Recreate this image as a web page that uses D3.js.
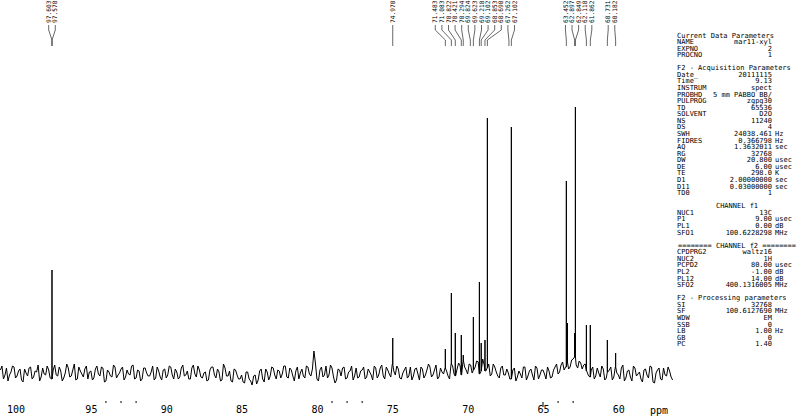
<!DOCTYPE html>
<html>
<head>
<meta charset="utf-8">
<script src="https://cdn.jsdelivr.net/npm/d3@7"></script>
<style>
  body { margin: 0; background: #fff; }
  svg { display: block; }
  text { font-family: "DejaVu Sans Mono", monospace; fill: #000; }
</style>
</head>
<body>
<script>
// 13C spectrum, ppm scale runs right to left
const ppmStart = 101.0
const ppmStep = 0.2

// baseline noise, one value every 0.2 ppm from 101.0 down to 56.4
const noise = [
  3, -6, 5, -2, 7, -5, 2, -7, 4, -3, 6, -4, 1, -8, 5, -2, 3, -6, 8, -3,
  2, -5, 9, -4, 3, -7, 6, -1, 4, -6, 2, -5, 7, -3, 5, -8, 1, -4, 6, -2,
  4, -7, 3, -2, 8, -5, 2, -6, 5, -3, 1, -7, 6, -4, 3, -5, 7, -2, 4, -6,
  5, -3, 2, -6, 8, -4, 3, -5, 1, -7, 6, -2, 4, -8, 9, -3, 2, -9, 3, -6,
  -2, -10, 1, -8, -3, -11, 2, -6, 4, -7, 6, -2, 3, -5, 7, -4, 5, -3, 2, -6,
  4, -5, 6, -3, 22, -6, 3, -4, 7, -2, 5, -10, 4, -3, 6, -5, 2, -7, 5, -4,
  3, -6, 4, -2, 7, -5, 5, -3, 6, -1, 9, -2, 4, -6, 3, -5, 6, -3, 5, -7,
  4, -2, 9, -4, 3, -6, 5, -1, 2, -6, 7, -3, 10, -2, 6, -1, 8, 3, 12, -1,
  14, 2, 9, -1, 6, -3, 5, -2, 4, -6, 3, -8, 2, -5, 6, -3, 4, -7, 5, -2,
  3, -6, 2, -4, 6, -1, 8, 3, 11, 6, 14, 8, 12, 4, 9, -2, 3, -6, 5, -4,
  4, -5, 3, -7, 6, -2, 5, -8, 2, -4, 7, -3, 1, -9, 4, -5, 6, -10, 3, -6,
  5, -3, 2, -7
]

// in-between samples, every 0.2 ppm from 100.9 down to 56.5
const noiseMid = [
  7, -2, -8, 1, 6, -3, 4, -9, 0, 5, -6, 2, 8, -4, -1, 7, -5, 3, -2, 6,
  -8, 0, 5, -3, 9, -6, 2, -4, 7, 1, -7, 4, -1, 6, -9, 3, -3, 8, -5, 0,
  6, -4, -1, 7, -6, 3, -8, 5, 0, -3, 7, -5, 2, -7, 4, -2, 6, -6, 1, -4,
  8, -2, -6, 5, -1, 7, -4, 0, -8, 3, 6, -5, 1, -7, 5, -3, -8, 4, -2, -6,
  -9, 1, -6, -12, -2, -7, 4, -9, 1, -3, 5, -6, 2, -1, 7, -5, 3, -8, 6, 0,
  -3, 7, -1, 4, 10, -8, 6, -2, -5, 8, -4, -7, 3, 5, -6, 1, 7, -3, -5, 2,
  6, -4, 1, -7, 5, -2, 8, -6, 3, -4, 2, 7, -5, 0, 6, -3, -7, 4, -1, 6,
  -5, 3, 6, -2, 8, -4, 1, 5, -3, 9, -1, 4, 7, 13, 3, 9, 0, 6, 11, 2,
  8, 5, -3, 9, 1, -5, 7, -2, 0, -6, 5, -4, -1, 6, -7, 2, -2, 7, -6, 3,
  -1, 6, -5, 3, 9, 1, 11, 6, 4, 13, 16, 5, 10, 8, 2, -4, 6, -3, 0, 7,
  -7, 1, 6, -4, 0, -6, 8, -5, 3, -8, 5, -1, -6, 3, -2, 7, -9, 0, 5, -7,
  -2, 6, -4
]

// peak positions (ppm) and heights (same units as noise)
const peakPpm = [97.58, 74.97, 71.48, 71.08, 70.82, 70.42, 70.29, 69.62, 69.22, 69.10, 68.85, 68.69, 67.10,
  63.45, 63.38, 62.90, 62.85, 62.12, 61.86, 60.73, 60.18]
const peakHeight = [103, 35, 24, 80, 40, 38, 18, 56, 91, 30, 33, 255, 246,
  192, 50, 40, 266, 48, 48, 33, 20]

// peak picking labels, grouped as printed at the top
const labelGroups = [
  { values: [97.603, 97.578], peaks: [97.58, 97.58] },
  { values: [74.970], peaks: [74.97] },
  { values: [71.483, 71.083, 70.822, 70.421, 70.294, 69.824, 69.623, 69.218, 69.102, 68.853, 68.690, 67.262, 67.102],
    peaks: [71.48, 71.08, 70.82, 70.42, 70.29, 69.82, 69.62, 69.22, 69.10, 68.85, 68.69, 67.26, 67.10] },
  { values: [63.452, 62.897, 62.849, 62.118, 61.862], peaks: [63.45, 62.90, 62.85, 62.12, 61.86] },
  { values: [60.731, 60.182], peaks: [60.73, 60.18] },
]

const axisTicks = [100, 95, 90, 85, 80, 75, 70, 65, 60]
const minorTicks = [94, 93, 92, 79, 78, 77, 64, 63]
const longTicks = [65]

const panelRows = [
  ['Current Data Parameters'],
  ['NAME', 'mar11-xyl', ''],
  ['EXPNO', '2', ''],
  ['PROCNO', '1', ''],
  [''],
  ['F2 - Acquisition Parameters'],
  ['Date_', '20111115', ''],
  ['Time', '9.13', ''],
  ['INSTRUM', 'spect', ''],
  ['PROBHD', '5 mm PABBO BB/', ''],
  ['PULPROG', 'zgpg30', ''],
  ['TD', '65536', ''],
  ['SOLVENT', 'D2O', ''],
  ['NS', '11240', ''],
  ['DS', '4', ''],
  ['SWH', '24038.461', 'Hz'],
  ['FIDRES', '0.366798', 'Hz'],
  ['AQ', '1.3632011', 'sec'],
  ['RG', '32768', ''],
  ['DW', '20.800', 'usec'],
  ['DE', '6.00', 'usec'],
  ['TE', '298.0', 'K'],
  ['D1', '2.00000000', 'sec'],
  ['D11', '0.03000000', 'sec'],
  ['TD0', '1', ''],
  [''],
  ['CHANNEL f1', 'center'],
  ['NUC1', '13C', ''],
  ['P1', '9.00', 'usec'],
  ['PL1', '0.00', 'dB'],
  ['SFO1', '100.6228298', 'MHz'],
  [''],
  ['======== CHANNEL f2 ========', 'center'],
  ['CPDPRG2', 'waltz16', ''],
  ['NUC2', '1H', ''],
  ['PCPD2', '80.00', 'usec'],
  ['PL2', '-1.00', 'dB'],
  ['PL12', '14.00', 'dB'],
  ['SFO2', '400.1316005', 'MHz'],
  [''],
  ['F2 - Processing parameters'],
  ['SI', '32768', ''],
  ['SF', '100.6127690', 'MHz'],
  ['WDW', 'EM', ''],
  ['SSB', '0', ''],
  ['LB', '1.00', 'Hz'],
  ['GB', '0', ''],
  ['PC', '1.40', ''],
]

const W = 800, H = 418

const svg = d3.select('body').append('svg')
  .attr('width', W)
  .attr('height', H)

const x = d3.scaleLinear().domain([101.03, 56.44]).range([0, 672])
const y = d3.scaleLinear().domain([0, 266]).range([373, 107])

// build the trace: both noise sample sets, then the peaks spiked in
const points = noise.map((v, i) => ({ ppm: ppmStart - i * ppmStep, h: v }))
  .concat(noiseMid.map((v, i) => ({ ppm: ppmStart - ppmStep / 2 - i * ppmStep, h: v })))
points.sort((a, b) => b.ppm - a.ppm)

const spikes = []
peakPpm.forEach(function (p, k) {
  const near = points.reduce((best, d) => Math.abs(d.ppm - p) < Math.abs(best.ppm - p) ? d : best)
  spikes.push({ ppm: p + 0.002, h: near.h })
  spikes.push({ ppm: p, h: peakHeight[k] })
  spikes.push({ ppm: p - 0.002, h: near.h })
})
const trace = points.concat(spikes).sort((a, b) => b.ppm - a.ppm)

const line = d3.line()
  .x(d => x(d.ppm))
  .y(d => y(d.h))

svg.append('path')
  .datum(trace)
  .attr('d', line)
  .attr('fill', 'none')
  .attr('stroke', '#000')
  .attr('stroke-width', 1)

// x axis (no axis line, labels only)
const axis = svg.append('g')
  .attr('transform', 'translate(0, 402)')
  .call(d3.axisBottom(x).tickValues(axisTicks).tickSize(0).tickPadding(4).tickFormat(d3.format('d')))
axis.select('.domain').remove()
axis.selectAll('text')
  .attr('font-family', '"DejaVu Sans Mono", monospace')
  .attr('font-size', 10)
  .attr('fill', '#000')

svg.append('text')
  .attr('x', x(57.3))
  .attr('y', 414)
  .attr('font-size', 10)
  .attr('text-anchor', 'middle')
  .text('ppm')

svg.append('g')
  .selectAll('line')
  .data(minorTicks)
  .enter().append('line')
  .attr('x1', d => x(d)).attr('x2', d => x(d))
  .attr('y1', 401).attr('y2', 403)
  .attr('stroke', '#000')
  .attr('stroke-width', 1)

svg.append('g')
  .selectAll('line')
  .data(longTicks)
  .enter().append('line')
  .attr('x1', d => x(d)).attr('x2', d => x(d))
  .attr('y1', 402).attr('y2', 407)
  .attr('stroke', '#000')
  .attr('stroke-width', 1)

// peak labels at the top
const labelStep = 6.6
const gLabels = svg.append('g')
labelGroups.forEach(function (group) {
  const n = group.values.length
  const centre = d3.mean(group.peaks, p => x(p))
  group.values.forEach(function (v, i) {
    const lx = centre + (i - (n - 1) / 2) * labelStep
    const px = x(group.peaks[i])
    gLabels.append('text')
      .attr('transform', `translate(${lx + 2.2}, 23) rotate(-90)`)
      .attr('font-size', 6.2)
      .text(v.toFixed(3))
    gLabels.append('path')
      .attr('d', `M${lx},25 L${lx},30 L${px},40 L${px},46`)
      .attr('fill', 'none')
      .attr('stroke', '#000')
      .attr('stroke-width', 0.6)
  })
})

// acquisition / processing parameter panel
const rowTop = 37.5
const rowStep = 6.57
const gPanel = svg.append('g').attr('font-size', 7)
panelRows.forEach(function (row, i) {
  const ty = rowTop + i * rowStep
  if (row.length === 1) {
    if (row[0]) gPanel.append('text').attr('x', 677).attr('y', ty).text(row[0])
  } else if (row[1] === 'center') {
    gPanel.append('text').attr('x', 737).attr('y', ty).attr('text-anchor', 'middle').text(row[0])
  } else {
    gPanel.append('text').attr('x', 677).attr('y', ty).text(row[0])
    gPanel.append('text').attr('x', 772).attr('y', ty).attr('text-anchor', 'end').text(row[1])
    if (row[2]) gPanel.append('text').attr('x', 775).attr('y', ty).text(row[2])
  }
})
</script>
</body>
</html>
